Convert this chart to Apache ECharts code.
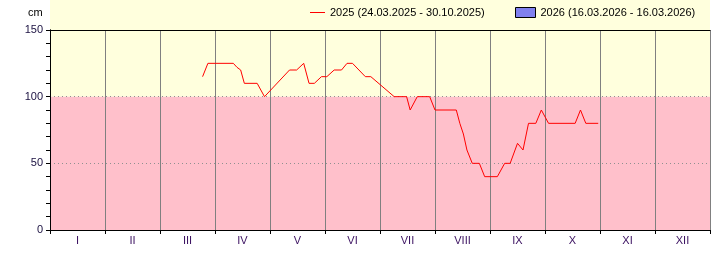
<!DOCTYPE html>
<html>
<head>
<meta charset="utf-8">
<script src="https://cdn.jsdelivr.net/npm/echarts@6/dist/echarts.min.js"></script>
<style>html,body{margin:0;padding:0;background:#fff;}#c{width:720px;height:260px;}</style>
</head>
<body>
<div id="c"></div>
<script>
// Data
var monthLabels = ['I','II','III','IV','V','VI','VII','VIII','IX','X','XI','XII'];
var seriesNames = ['2025 (24.03.2025 - 30.10.2025)', '2026 (16.03.2026 - 16.03.2026)'];
var dates2025 = ['2025-03-24','2025-03-27','2025-04-10','2025-04-12','2025-04-14','2025-04-16','2025-04-23','2025-04-27',
  '2025-05-11','2025-05-15','2025-05-19','2025-05-22','2025-05-25','2025-05-29','2025-06-01','2025-06-05','2025-06-09',
  '2025-06-12','2025-06-15','2025-06-22','2025-06-25','2025-07-08','2025-07-15','2025-07-17','2025-07-21','2025-07-28',
  '2025-07-31','2025-08-12','2025-08-14','2025-08-16','2025-08-18','2025-08-21','2025-08-25','2025-08-28','2025-09-04',
  '2025-09-08','2025-09-11','2025-09-15','2025-09-18','2025-09-21','2025-09-25','2025-09-28','2025-10-02','2025-10-17',
  '2025-10-20','2025-10-23','2025-10-30'];
var values2025 = [115,125,125,122,120,110,110,100,
  120,120,125,110,110,115,115,120,120,
  125,125,115,115,100,100,90,100,100,
  90,90,80,72,60,50,50,40,40,
  50,50,65,60,80,80,90,80,80,
  90,80,80];
var values2026 = [];
var yTicks = [0, 50, 100, 150];

function monthPos(s) {
  var p = s.split('-'); var y = +p[0], m = +p[1], d = +p[2];
  var dim = new Date(y, m, 0).getDate();
  return (m - 1) + d / dim;
}
var line2025 = dates2025.map(function (d, i) { return [monthPos(d), values2025[i]]; });

var FONT = 'Liberation Sans, Arial, sans-serif';
var chart = echarts.init(document.getElementById('c'), null, {renderer: 'canvas'});
chart.setOption({
  animation: false,
  backgroundColor: '#ffffff',
  graphic: [{
    type: 'rect', left: 50, top: 0, z: -10,
    shape: {width: 660, height: 30},
    style: {fill: '#FFFFDD'}
  }, {
    type: 'text', left: 28, top: 7,
    style: {text: 'cm', font: '11px ' + FONT, fill: '#000'}
  }],
  grid: {left: 50, top: 30, width: 660, height: 200, containLabel: false},
  legend: [{
    left: 305, top: 2, itemWidth: 15, itemHeight: 10, itemGap: 10,
    textStyle: {fontSize: 11, fontFamily: FONT, color: '#000'},
    data: [{name: seriesNames[0], icon: 'path://M0,0 M0,4.5 L15,4.5 L15,5.5 L0,5.5 Z M15,10',
      itemStyle: {color: '#FF0000', borderWidth: 0}}]
  }, {
    left: 510, top: 2, itemWidth: 20, itemHeight: 10,
    textStyle: {fontSize: 11, fontFamily: FONT, color: '#000'},
    data: [{name: seriesNames[1], icon: 'rect', itemStyle: {color: '#8080EE', borderColor: '#000', borderWidth: 1}}]
  }],
  xAxis: [{
    type: 'value', min: 0, max: 12, interval: 1, position: 'bottom', z: 5,
    axisLine: {show: true, lineStyle: {color: '#000', width: 1}},
    axisTick: {show: true, length: 4, lineStyle: {color: '#000'}},
    axisLabel: {show: false},
    splitLine: {show: true, lineStyle: {color: '#808080', width: 1}}
  }, {
    type: 'category', data: monthLabels, position: 'bottom', boundaryGap: true, z: 5,
    axisLine: {show: false}, axisTick: {show: false}, splitLine: {show: false},
    axisLabel: {margin: 5, fontSize: 11, fontFamily: FONT, color: '#3a1060'}
  }, {
    type: 'value', min: 0, max: 12, position: 'top', z: 5,
    axisLine: {show: true, lineStyle: {color: '#000', width: 1}},
    axisTick: {show: false}, axisLabel: {show: false}, splitLine: {show: false}
  }],
  yAxis: [{
    type: 'value', min: yTicks[0], max: yTicks[yTicks.length - 1], interval: 50, z: 5,
    axisLine: {show: true, lineStyle: {color: '#000', width: 1}},
    axisTick: {show: true, length: 4, lineStyle: {color: '#000'}},
    minorTick: {show: true, splitNumber: 5, length: 4, lineStyle: {color: '#000'}},
    axisLabel: {margin: 7, fontSize: 11, fontFamily: FONT, color: '#1a1040'},
    splitLine: {show: true, lineStyle: {color: '#909090', type: [1, 3], width: 1}}
  }, {
    type: 'value', min: 0, max: 150, position: 'right', z: 5,
    axisLine: {show: true, lineStyle: {color: '#000', width: 1}},
    axisTick: {show: false}, axisLabel: {show: false}, splitLine: {show: false}
  }],
  series: [{
    name: seriesNames[0], type: 'line', xAxisIndex: 0, yAxisIndex: 0,
    data: line2025, symbol: 'none', z: 10,
    lineStyle: {color: '#FF0000', width: 1},
    itemStyle: {color: '#FF0000'},
    markArea: {
      silent: true, z: 0,
      data: [
        [{yAxis: 100, itemStyle: {color: '#FFFFDD'}}, {yAxis: 150}],
        [{yAxis: 0, itemStyle: {color: '#FFC0CB'}}, {yAxis: 100}]
      ]
    }
  }, {
    name: seriesNames[1], type: 'bar', xAxisIndex: 0, yAxisIndex: 0,
    data: values2026, itemStyle: {color: '#8080EE', borderColor: '#000', borderWidth: 1}
  }]
});
</script>
</body>
</html>
